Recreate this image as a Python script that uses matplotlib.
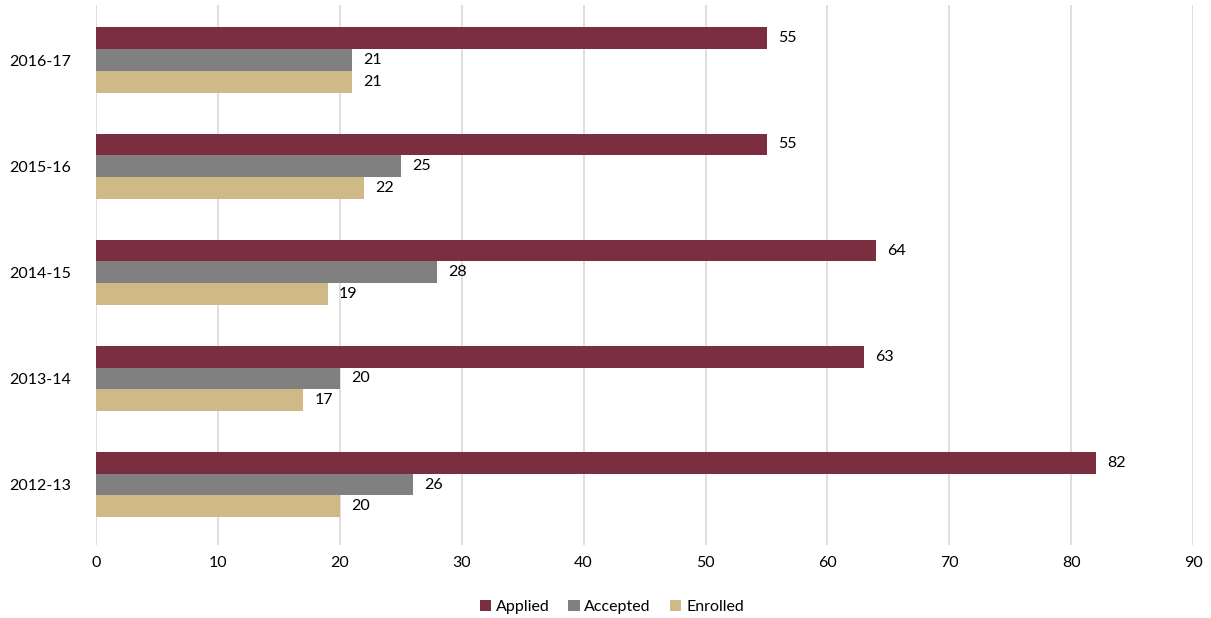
import numpy as np
import matplotlib
matplotlib.use("Agg")
from matplotlib import pyplot as plt

years = ['2012-13', '2013-14', '2014-15', '2015-16', '2016-17']
applied = [82, 63, 64, 55, 55]
accepted = [26, 20, 28, 25, 21]
enrolled = [20, 17, 19, 22, 21]

series = [('Applied', applied, '#7B2E40'),
          ('Accepted', accepted, '#808080'),
          ('Enrolled', enrolled, '#CFB987')]

plt.rcParams['font.family'] = ['Lato', 'DejaVu Sans']

fig = plt.figure(figsize=(12.11, 6.18), dpi=100)
ax = fig.add_axes([0.0793, 0.118, 0.906, 0.874])

y = np.arange(len(years))
h = 0.205
for i, (name, vals, color) in enumerate(series):
    pos = y + h * (1 - i)
    bars = ax.barh(pos, vals, height=h, color=color, label=name, zorder=3)
    for b, v in zip(bars, vals):
        ax.annotate(str(v), (v, b.get_y() + b.get_height() / 2),
                    xytext=(8, 0), textcoords='offset points',
                    va='center', ha='left', fontsize=11.5, color='#000000')

ax.set_xlim(0, 90)
ax.set_ylim(-0.57, 4.52)
ax.set_xticks(range(0, 91, 10))
ax.set_yticks(y)
ax.set_yticklabels(years)
ax.tick_params(axis='both', length=0, labelsize=11.5, colors='#000000')
ax.tick_params(axis='x', pad=8)
ax.tick_params(axis='y', pad=18)
ax.grid(axis='x', color='#D9D9D9', linewidth=1.2, zorder=0)
for s in ax.spines.values():
    s.set_visible(False)

ax.legend(loc='lower center', bbox_to_anchor=(0.47, -0.155), ncol=3,
          frameon=False, fontsize=11.5, handlelength=0.7, handleheight=0.7,
          handletextpad=0.3, columnspacing=1.2)

fig.savefig('out.png', dpi=100)
